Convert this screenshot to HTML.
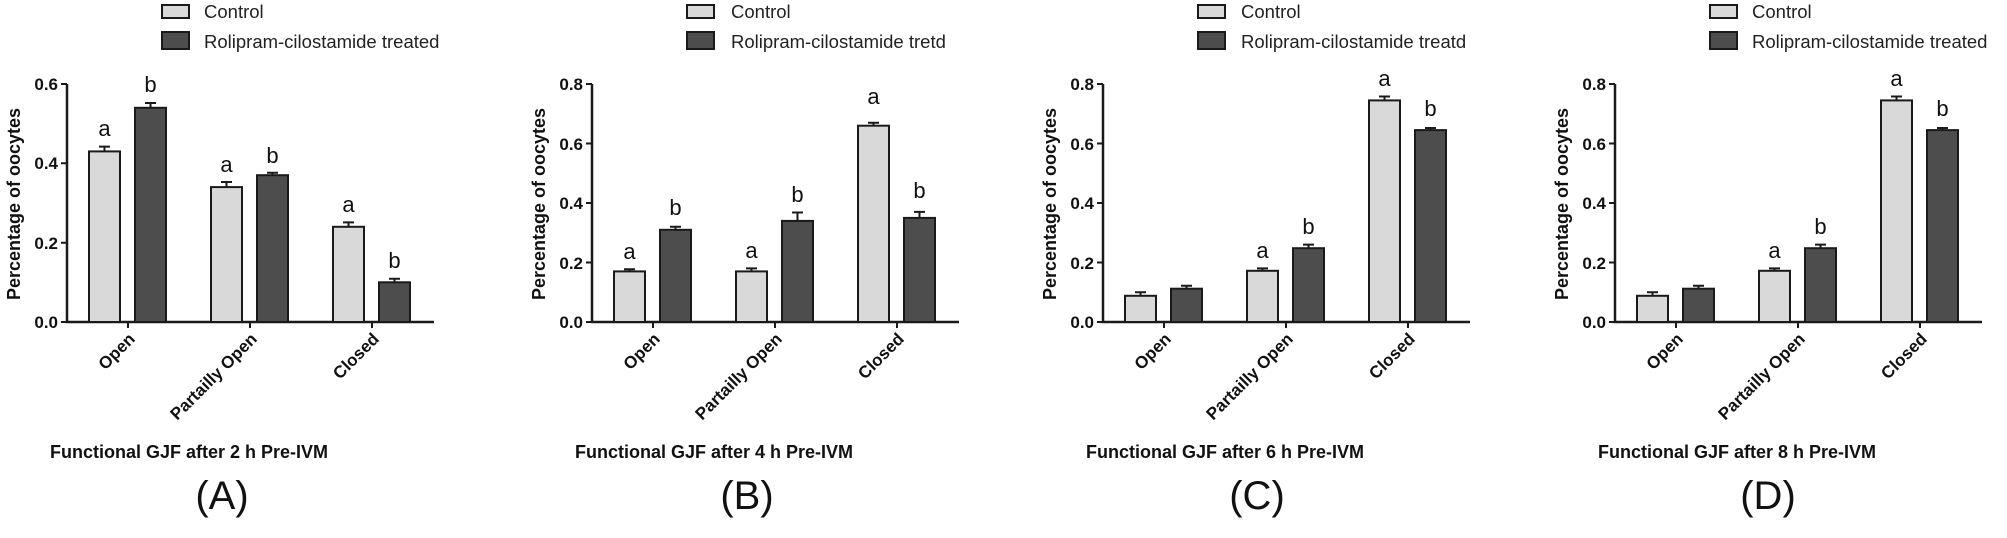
<!DOCTYPE html>
<html><head><meta charset="utf-8"><style>
html,body{margin:0;padding:0;background:#fff;}
svg{display:block;font-family:"Liberation Sans",Arial,sans-serif;}
.tl{font-size:17px;font-weight:bold;text-anchor:end;fill:#111}
.cat{font-size:17px;font-weight:bold;text-anchor:end;fill:#111}
.lg{font-size:18.5px;fill:#222}
.yl{font-size:18px;font-weight:bold;text-anchor:middle;fill:#111}
.tt{font-size:18px;font-weight:bold;fill:#111}
.pl{font-size:40px;text-anchor:middle;fill:#111}
.lt{font-size:22px;text-anchor:middle;fill:#111}
.c{fill:#d9d9d9;stroke:#1a1a1a;stroke-width:2}
.t{fill:#4d4d4d;stroke:#1a1a1a;stroke-width:2}
.ax{stroke:#1a1a1a;stroke-width:2.5;fill:none}
.e{stroke:#1a1a1a;stroke-width:2;fill:none}
</style></head><body>
<svg width="2007" height="538" viewBox="0 0 2007 538">
<defs>
<g id="frame">
<path class="ax" d="M0,84 V322 H367"/>
<path class="e" d="M61,322 v6 M183,322 v6 M305,322 v6"/>
<rect class="c" x="95" y="5" width="27" height="13"/>
<rect class="t" x="95" y="32" width="27" height="17"/>
<text class="yl" transform="translate(-47,204) rotate(-90)">Percentage of oocytes</text>
<text class="cat" transform="translate(69,340) rotate(-45)">Open</text>
<text class="cat" transform="translate(191,340) rotate(-45)">Partailly Open</text>
<text class="cat" transform="translate(313,340) rotate(-45)">Closed</text>
</g>
</defs>

<!-- Panel A -->
<g transform="translate(67,0)">
<use href="#frame"/>
<text class="lg" x="137" y="18">Control</text>
<text class="lg" x="137" y="48">Rolipram-cilostamide treated</text>
<path class="e" d="M0,322 h-6 M0,242.7 h-6 M0,163.3 h-6 M0,84 h-6"/>
<text class="tl" x="-9" y="328">0.0</text><text class="tl" x="-9" y="249">0.2</text>
<text class="tl" x="-9" y="169">0.4</text><text class="tl" x="-9" y="90">0.6</text>
<path class="e" d="M37.5,151.4 V146.6 M32,146.6 h11 M83.5,107.8 V103 M78,103 h11 M159.5,187 V182 M154,182 h11 M205.5,175 V172.8 M200,172.8 h11 M281.5,226.8 V222.4 M276,222.4 h11 M327.5,282 V278.7 M322,278.7 h11"/>
<rect class="c" x="22" y="151.4" width="31" height="170.6"/><rect class="t" x="68" y="107.8" width="31" height="214.2"/>
<rect class="c" x="144" y="187.1" width="31" height="134.9"/><rect class="t" x="190" y="175.2" width="31" height="146.8"/>
<rect class="c" x="266" y="226.8" width="31" height="95.2"/><rect class="t" x="312" y="282.3" width="31" height="39.7"/>
<text class="lt" x="37.5" y="136">a</text><text class="lt" x="83.5" y="92">b</text>
<text class="lt" x="159.5" y="172">a</text><text class="lt" x="205.5" y="163">b</text>
<text class="lt" x="281.5" y="212">a</text><text class="lt" x="327.5" y="268">b</text>
<text class="tt" x="-17" y="458">Functional GJF after 2 h Pre-IVM</text>
<text class="pl" x="155" y="509">(A)</text>
</g>

<!-- Panel B -->
<g transform="translate(592,0)">
<use href="#frame"/>
<text class="lg" x="139" y="18">Control</text>
<text class="lg" x="139" y="48">Rolipram-cilostamide tretd</text>
<path class="e" d="M0,322 h-6 M0,262.5 h-6 M0,203 h-6 M0,143.5 h-6 M0,84 h-6"/>
<text class="tl" x="-9" y="328">0.0</text><text class="tl" x="-9" y="269">0.2</text>
<text class="tl" x="-9" y="209">0.4</text><text class="tl" x="-9" y="150">0.6</text><text class="tl" x="-9" y="90">0.8</text>
<path class="e" d="M37.5,271 V269.3 M32,269.3 h11 M83.5,229.8 V226.8 M78,226.8 h11 M159.5,271 V268.4 M154,268.4 h11 M205.5,221 V212.5 M200,212.5 h11 M281.5,125.7 V122.7 M276,122.7 h11 M327.5,218 V211.9 M322,211.9 h11"/>
<rect class="c" x="22" y="271.4" width="31" height="50.6"/><rect class="t" x="68" y="229.8" width="31" height="92.2"/>
<rect class="c" x="144" y="271.4" width="31" height="50.6"/><rect class="t" x="190" y="220.9" width="31" height="101.1"/>
<rect class="c" x="266" y="125.7" width="31" height="196.3"/><rect class="t" x="312" y="217.9" width="31" height="104.1"/>
<text class="lt" x="37.5" y="259">a</text><text class="lt" x="83.5" y="215">b</text>
<text class="lt" x="159.5" y="258">a</text><text class="lt" x="205.5" y="202">b</text>
<text class="lt" x="281.5" y="104">a</text><text class="lt" x="327.5" y="198">b</text>
<text class="tt" x="-17" y="458">Functional GJF after 4 h Pre-IVM</text>
<text class="pl" x="155" y="509">(B)</text>
</g>

<!-- Panel C -->
<g transform="translate(1103,0)">
<use href="#frame"/>
<text class="lg" x="138" y="18">Control</text>
<text class="lg" x="138" y="48">Rolipram-cilostamide treatd</text>
<path class="e" d="M0,322 h-6 M0,262.5 h-6 M0,203 h-6 M0,143.5 h-6 M0,84 h-6"/>
<text class="tl" x="-9" y="328">0.0</text><text class="tl" x="-9" y="269">0.2</text>
<text class="tl" x="-9" y="209">0.4</text><text class="tl" x="-9" y="150">0.6</text><text class="tl" x="-9" y="90">0.8</text>
<path class="e" d="M37.5,295.8 V292.2 M32,292.2 h11 M83.5,288.7 V285.7 M78,285.7 h11 M159.5,270.8 V268.4 M154,268.4 h11 M205.5,248.2 V244.6 M200,244.6 h11 M281.5,100.4 V96.5 M276,96.5 h11 M327.5,130.1 V128 M322,128 h11"/>
<rect class="c" x="22" y="295.8" width="31" height="26.2"/><rect class="t" x="68" y="288.7" width="31" height="33.3"/>
<rect class="c" x="144" y="270.8" width="31" height="51.2"/><rect class="t" x="190" y="248.2" width="31" height="73.8"/>
<rect class="c" x="266" y="100.4" width="31" height="221.6"/><rect class="t" x="312" y="130.1" width="31" height="191.9"/>
<text class="lt" x="159.5" y="258">a</text><text class="lt" x="205.5" y="234">b</text>
<text class="lt" x="281.5" y="86">a</text><text class="lt" x="327.5" y="116">b</text>
<text class="tt" x="-17" y="458">Functional GJF after 6 h Pre-IVM</text>
<text class="pl" x="154" y="509">(C)</text>
</g>

<!-- Panel D -->
<g transform="translate(1615,0)">
<use href="#frame"/>
<text class="lg" x="137" y="18">Control</text>
<text class="lg" x="137" y="48">Rolipram-cilostamide treated</text>
<path class="e" d="M0,322 h-6 M0,262.5 h-6 M0,203 h-6 M0,143.5 h-6 M0,84 h-6"/>
<text class="tl" x="-9" y="328">0.0</text><text class="tl" x="-9" y="269">0.2</text>
<text class="tl" x="-9" y="209">0.4</text><text class="tl" x="-9" y="150">0.6</text><text class="tl" x="-9" y="90">0.8</text>
<path class="e" d="M37.5,295.8 V292.2 M32,292.2 h11 M83.5,288.7 V285.7 M78,285.7 h11 M159.5,270.8 V268.4 M154,268.4 h11 M205.5,248.2 V244.6 M200,244.6 h11 M281.5,100.4 V96.5 M276,96.5 h11 M327.5,130.1 V128 M322,128 h11"/>
<rect class="c" x="22" y="295.8" width="31" height="26.2"/><rect class="t" x="68" y="288.7" width="31" height="33.3"/>
<rect class="c" x="144" y="270.8" width="31" height="51.2"/><rect class="t" x="190" y="248.2" width="31" height="73.8"/>
<rect class="c" x="266" y="100.4" width="31" height="221.6"/><rect class="t" x="312" y="130.1" width="31" height="191.9"/>
<text class="lt" x="159.5" y="258">a</text><text class="lt" x="205.5" y="234">b</text>
<text class="lt" x="281.5" y="86">a</text><text class="lt" x="327.5" y="116">b</text>
<text class="tt" x="-17" y="458">Functional GJF after 8 h Pre-IVM</text>
<text class="pl" x="153" y="509">(D)</text>
</g>
</svg>
</body></html>
